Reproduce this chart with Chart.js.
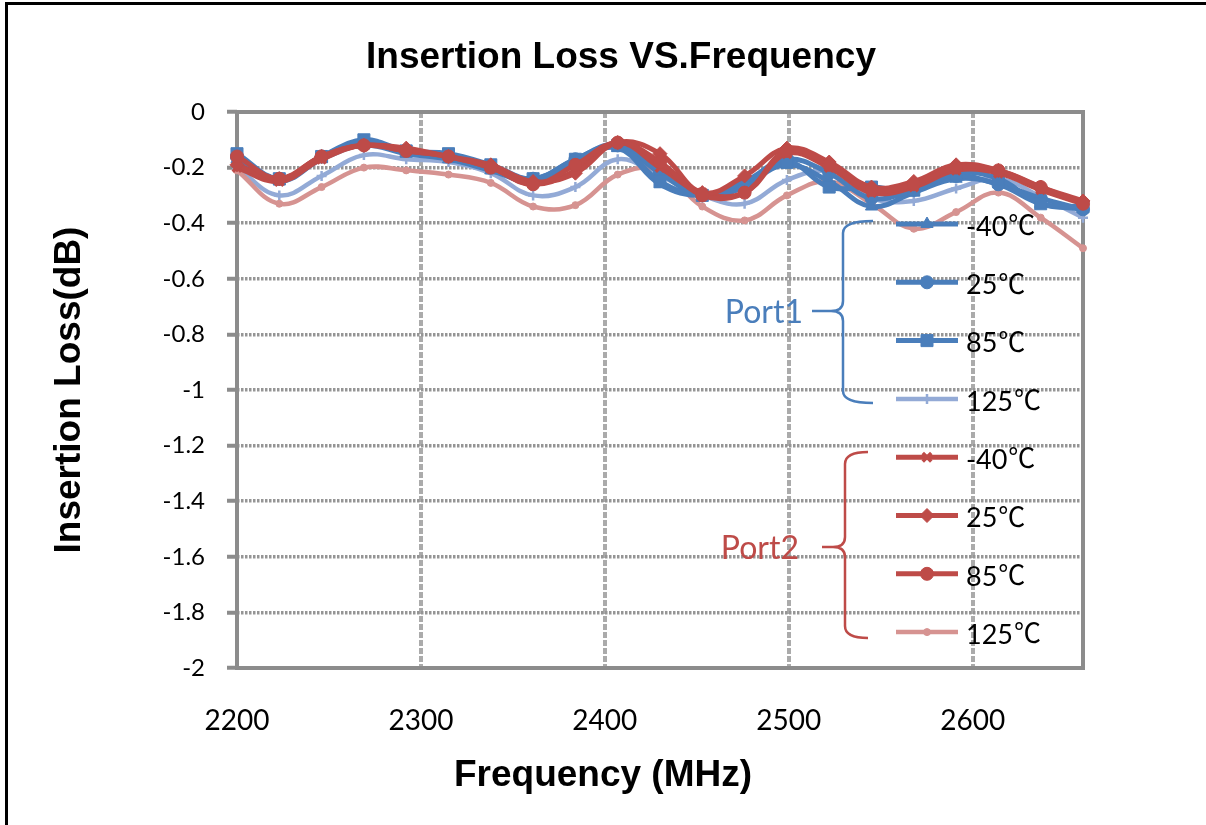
<!DOCTYPE html>
<html>
<head>
<meta charset="utf-8">
<script src="https://cdn.jsdelivr.net/npm/chart.js@4.4.1/dist/chart.umd.min.js"></script>
<style>
html,body{margin:0;padding:0;background:#fff;}
#wrap{width:1206px;height:825px;position:relative;}
</style>
</head>
<body>
<div id="wrap"><canvas id="c" width="1206" height="825"></canvas></div>
<script>
// ---- data ----
const frequencies = [2200,2223,2246,2269,2292,2315,2338,2361,2384,2407,2430,2453,2476,2499,2522,2545,2568,2591,2614,2637,2660];

const port1_m40 = [-0.17,-0.25,-0.17,-0.12,-0.15,-0.17,-0.21,-0.25,-0.18,-0.13,-0.26,-0.30,-0.26,-0.19,-0.25,-0.34,-0.29,-0.24,-0.26,-0.33,-0.35];
const port1_25  = [-0.16,-0.24,-0.16,-0.11,-0.14,-0.16,-0.20,-0.24,-0.17,-0.12,-0.22,-0.30,-0.25,-0.17,-0.22,-0.31,-0.28,-0.23,-0.26,-0.31,-0.35];
const port1_85  = [-0.15,-0.24,-0.16,-0.10,-0.14,-0.15,-0.19,-0.24,-0.17,-0.12,-0.25,-0.30,-0.27,-0.18,-0.27,-0.27,-0.28,-0.22,-0.24,-0.33,-0.34];
const port1_125 = [-0.20,-0.30,-0.23,-0.155,-0.17,-0.18,-0.22,-0.30,-0.27,-0.17,-0.23,-0.30,-0.33,-0.245,-0.215,-0.31,-0.32,-0.275,-0.24,-0.305,-0.38];

const port2_m40 = [-0.20,-0.25,-0.17,-0.12,-0.14,-0.16,-0.20,-0.26,-0.21,-0.11,-0.20,-0.29,-0.29,-0.15,-0.20,-0.29,-0.27,-0.21,-0.22,-0.28,-0.33];
const port2_25  = [-0.19,-0.24,-0.16,-0.12,-0.13,-0.16,-0.19,-0.25,-0.22,-0.11,-0.15,-0.29,-0.23,-0.13,-0.18,-0.27,-0.25,-0.19,-0.21,-0.27,-0.32];
const port2_85  = [-0.16,-0.24,-0.16,-0.12,-0.14,-0.16,-0.20,-0.26,-0.19,-0.11,-0.18,-0.30,-0.29,-0.14,-0.19,-0.28,-0.26,-0.20,-0.21,-0.27,-0.33];
const port2_125 = [-0.21,-0.33,-0.27,-0.20,-0.21,-0.225,-0.255,-0.34,-0.335,-0.225,-0.21,-0.34,-0.39,-0.30,-0.25,-0.33,-0.42,-0.36,-0.29,-0.38,-0.49];

const seriesLabels = ['-40\u2103','25\u2103','85\u2103','125\u2103'];
const groupLabels = ['Port1','Port2'];
const xTickValues = [2200,2300,2400,2500,2600];
const yTickValues = [0,-0.2,-0.4,-0.6,-0.8,-1,-1.2,-1.4,-1.6,-1.8,-2];

const chartTitle = 'Insertion Loss VS.Frequency';
const xTitle = 'Frequency (MHz)';
const yTitle = 'Insertion Loss(dB)';

// ---- styling ----
const BLUE = '#4A7EBB', LBLUE = '#93AAD6', RED = '#BE4B48', PINK = '#D69391';

function pts(arr){ return arr.map((v,i)=>({x:frequencies[i], y:v})); }

function ds(label, data, color, style, radius, lw, order, group, pbw){
  return {
    label, data: pts(data), borderColor: color, backgroundColor: color,
    pointBackgroundColor: color, pointBorderColor: color,
    pointStyle: style, pointRadius: radius, pointHoverRadius: radius,
    pointBorderWidth: pbw || 1, borderWidth: lw, tension: 0.4,
    clip: false, order, group
  };
}

const datasets = [
  ds(seriesLabels[0], port1_m40, BLUE, 'triangle', 7, 5, 6, 0),
  ds(seriesLabels[1], port1_25,  BLUE, 'circle', 6.5, 5, 5, 0),
  ds(seriesLabels[2], port1_85,  BLUE, 'rect', 8.5, 5, 4, 0),
  ds(seriesLabels[3], port1_125, LBLUE, 'cross', 5, 4.5, 8, 0, 2.5),
  ds(seriesLabels[0], port2_m40, RED, 'crossRot', 6, 5, 3, 1, 3.5),
  ds(seriesLabels[1], port2_25,  RED, 'rectRot', 7, 5, 2, 1),
  ds(seriesLabels[2], port2_85,  RED, 'circle', 6.5, 5, 1, 1),
  ds(seriesLabels[3], port2_125, PINK, 'circle', 3.5, 4.5, 7, 1)
];

// ---- plugins ----
const frameBg = {
  id: 'frameBg',
  beforeDraw(chart){
    const ctx = chart.ctx;
    ctx.save();
    ctx.fillStyle = '#fff';
    ctx.fillRect(0,0,chart.width,chart.height);
    ctx.strokeStyle = '#000';
    ctx.lineWidth = 3;
    ctx.beginPath();
    ctx.moveTo(6.5, chart.height);
    ctx.lineTo(6.5, 3.5);
    ctx.lineTo(chart.width, 3.5);
    ctx.stroke();
    ctx.restore();
  }
};

const plotFrame = {
  id: 'plotFrame',
  beforeDatasetsDraw(chart){
    const {ctx, chartArea:a} = chart;
    ctx.save();
    ctx.strokeStyle = '#8C8C8C';
    ctx.lineWidth = 4;
    ctx.setLineDash([]);
    ctx.strokeRect(a.left, a.top, a.right - a.left, a.bottom - a.top);
    ctx.restore();
  }
};

function drawMarker(ctx, d, x, y){
  ctx.save();
  ctx.fillStyle = d.pointBackgroundColor;
  ctx.strokeStyle = d.pointBorderColor;
  ctx.lineWidth = d.pointBorderWidth;
  Chart.helpers.drawPoint(ctx, {pointStyle: d.pointStyle, radius: d.pointRadius, rotation: 0, borderWidth: d.pointBorderWidth}, x, y);
  ctx.restore();
}

const customLegend = {
  id: 'customLegend',
  afterDraw(chart){
    const ctx = chart.ctx;
    const dsets = chart.data.datasets;
    const itemY0 = 224, itemStep = 58.3;
    const lx1 = 896, lx2 = 958, mx = 927, tx = 966;
    ctx.save();
    dsets.forEach((d,i)=>{
      const y = itemY0 + i*itemStep;
      ctx.strokeStyle = d.borderColor;
      ctx.lineWidth = d.borderWidth;
      ctx.setLineDash([]);
      ctx.beginPath(); ctx.moveTo(lx1,y); ctx.lineTo(lx2,y); ctx.stroke();
      drawMarker(ctx, d, mx, y);
      ctx.fillStyle = '#000';
      ctx.textAlign = 'left';
      ctx.textBaseline = 'middle';
      const num = d.label.replace('\u2103','');
      ctx.font = '27px Lato, sans-serif';
      ctx.fillText(num, tx, y + 3);
      const w = ctx.measureText(num).width;
      ctx.font = '27px "Noto Sans CJK SC", "Noto Sans CJK JP", sans-serif';
      ctx.fillText('\u2103', tx + w + 1, y + 1);
    });
    // braces + group labels
    const groups = [
      {label: groupLabels[0], color: BLUE, x: 843, top: 221, bottom: 403, mid: 311, hook: 873, tip: 812, textX: 803},
      {label: groupLabels[1], color: RED,  x: 845, top: 452, bottom: 638, mid: 547, hook: 868, tip: 822, textX: 799}
    ];
    groups.forEach(g=>{
      ctx.strokeStyle = g.color;
      ctx.lineWidth = 2.5;
      ctx.beginPath();
      ctx.moveTo(g.hook, g.top);
      ctx.quadraticCurveTo(g.x, g.top, g.x, g.top + 12);
      ctx.lineTo(g.x, g.mid - 10);
      ctx.quadraticCurveTo(g.x, g.mid, g.x - 12, g.mid);
      ctx.lineTo(g.tip, g.mid);
      ctx.moveTo(g.x - 12, g.mid);
      ctx.quadraticCurveTo(g.x, g.mid, g.x, g.mid + 10);
      ctx.lineTo(g.x, g.bottom - 12);
      ctx.quadraticCurveTo(g.x, g.bottom, g.hook, g.bottom);
      ctx.stroke();
      ctx.fillStyle = g.color;
      ctx.font = '32px Lato, sans-serif';
      ctx.textAlign = 'right';
      ctx.textBaseline = 'middle';
      ctx.fillText(g.label, g.textX, g.mid + 2);
    });
    // chart title and x-axis title, placed as in the reference
    ctx.fillStyle = '#000';
    ctx.font = 'bold 37px "Liberation Sans", Arial, sans-serif';
    ctx.textAlign = 'center';
    ctx.textBaseline = 'middle';
    ctx.fillText(chartTitle, 621, 58);
    ctx.fillText(xTitle, 603, 776);
    ctx.restore();
  }
};

new Chart(document.getElementById('c'), {
  type: 'line',
  data: { datasets },
  options: {
    responsive: false,
    devicePixelRatio: 1,
    animation: false,
    events: [],
    layout: { padding: { left: 36, right: 123, top: 112, bottom: 0 } },
    plugins: {
      legend: { display: false },
      tooltip: { enabled: false },
      title: { display: false }
    },
    scales: {
      x: {
        type: 'linear', min: 2200, max: 2660,
        afterBuildTicks: s => { s.ticks = xTickValues.map(v => ({value: v})); },
        afterFit: s => { s.height = 157; },
        ticks: {
          autoSkip: false, maxRotation: 0, minRotation: 0,
          color: '#000', padding: 36,
          font: { family: 'Lato, sans-serif', size: 28 },
          callback: v => String(v)
        },
        grid: { color: '#ABABAB', lineWidth: 4, drawTicks: false },
        border: { display: false, dash: [6, 2] }
      },
      y: {
        min: -2, max: 0,
        afterBuildTicks: s => { s.ticks = yTickValues.map(v => ({value: v})); },
        afterFit: s => { s.width = 201; },
        ticks: {
          color: '#000', padding: 22,
          font: { family: 'Lato, sans-serif', size: 24 },
          callback: v => String(Math.round(v * 10) / 10)
        },
        grid: { color: '#959595', lineWidth: 3.5, drawTicks: true, tickLength: 10, tickColor: '#8C8C8C', tickWidth: 4, tickBorderDash: [] },
        border: { display: false, dash: [2.5, 1.5] },
        title: {
          display: true, text: yTitle, color: '#000',
          font: { family: '"Liberation Sans", Arial, sans-serif', size: 37, weight: 'bold', lineHeight: 1.2 },
          padding: { top: 12, bottom: 0 }
        }
      }
    }
  },
  plugins: [frameBg, plotFrame, customLegend]
});
</script>
</body>
</html>
